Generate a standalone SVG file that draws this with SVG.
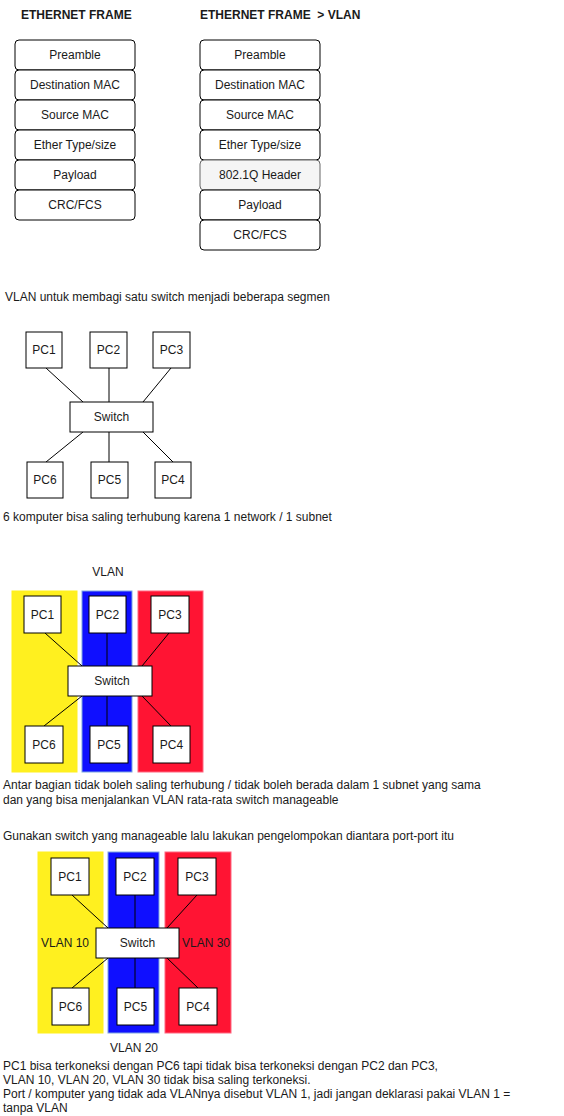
<svg xmlns="http://www.w3.org/2000/svg" width="564" height="1116" viewBox="0 0 564 1116">
<style>
text{font-family:"Liberation Sans",Arial,sans-serif;font-size:12px;fill:#1a1a1a}
.c{text-anchor:middle}
.b{font-weight:bold}
.f{fill:#fff;stroke:#000;stroke-width:1}
.h{fill:#f5f5f5;stroke:#666;stroke-width:1}
.n{fill:#fff;stroke:#000;stroke-width:1}
.ln{stroke:#000;stroke-width:1;fill:none}
.y{fill:#FFF01F;stroke:#FFF01F}
.bl{fill:#0F0FFF;stroke:#7EA6E0}
.r{fill:#FF1433;stroke:#FF6680}
</style>
<rect width="564" height="1116" fill="#fff"/>

<g id="frame1">
<text x="21" y="19" class="b">ETHERNET FRAME</text>
<g id="f1-preamble"><rect class="f" x="15" y="40" width="120" height="30" rx="4"/><text class="c" x="75" y="59">Preamble</text></g>
<g id="f1-dst"><rect class="f" x="15" y="70" width="120" height="30" rx="4"/><text class="c" x="75" y="89">Destination MAC</text></g>
<g id="f1-src"><rect class="f" x="15" y="100" width="120" height="30" rx="4"/><text class="c" x="75" y="119">Source MAC</text></g>
<g id="f1-type"><rect class="f" x="15" y="130" width="120" height="30" rx="4"/><text class="c" x="75" y="149">Ether Type/size</text></g>
<g id="f1-payload"><rect class="f" x="15" y="160" width="120" height="30" rx="4"/><text class="c" x="75" y="179">Payload</text></g>
<g id="f1-crc"><rect class="f" x="15" y="190" width="120" height="30" rx="4"/><text class="c" x="75" y="209">CRC/FCS</text></g>
</g>

<g id="frame2">
<text x="200" y="19" class="b" xml:space="preserve">ETHERNET FRAME  &gt; VLAN</text>
<g id="f2-preamble"><rect class="f" x="200" y="40" width="120" height="30" rx="4"/><text class="c" x="260" y="59">Preamble</text></g>
<g id="f2-dst"><rect class="f" x="200" y="70" width="120" height="30" rx="4"/><text class="c" x="260" y="89">Destination MAC</text></g>
<g id="f2-src"><rect class="f" x="200" y="100" width="120" height="30" rx="4"/><text class="c" x="260" y="119">Source MAC</text></g>
<g id="f2-type"><rect class="f" x="200" y="130" width="120" height="30" rx="4"/><text class="c" x="260" y="149">Ether Type/size</text></g>
<g id="f2-8021q"><rect class="h" x="200" y="160" width="120" height="30" rx="4"/><text class="c" x="260" y="179">802.1Q Header</text></g>
<g id="f2-payload"><rect class="f" x="200" y="190" width="120" height="30" rx="4"/><text class="c" x="260" y="209">Payload</text></g>
<g id="f2-crc"><rect class="f" x="200" y="220" width="120" height="30" rx="4"/><text class="c" x="260" y="239">CRC/FCS</text></g>
</g>

<text x="5" y="301">VLAN untuk membagi satu switch menjadi beberapa segmen</text>

<!-- Section 2 -->
<g id="s2-connectors" class="ln">
<line x1="46" y1="368" x2="83" y2="402"/>
<line x1="109" y1="368" x2="109" y2="402"/>
<line x1="171" y1="368" x2="143" y2="402"/>
<line x1="83" y1="432" x2="46" y2="462"/>
<line x1="109" y1="432" x2="109" y2="462"/>
<line x1="143" y1="432" x2="173" y2="462"/>
</g>
<g id="s2-pc1"><rect class="n" x="26" y="332" width="36" height="36"/><text class="c" x="44" y="354">PC1</text></g>
<g id="s2-pc2"><rect class="n" x="90" y="332" width="37" height="36"/><text class="c" x="108.5" y="354">PC2</text></g>
<g id="s2-pc3"><rect class="n" x="153" y="332" width="37" height="36"/><text class="c" x="171.5" y="354">PC3</text></g>
<g id="s2-switch"><rect class="n" x="70" y="402" width="83" height="30"/><text class="c" x="111.5" y="421">Switch</text></g>
<g id="s2-pc6"><rect class="n" x="27" y="462" width="36" height="36"/><text class="c" x="45" y="484">PC6</text></g>
<g id="s2-pc5"><rect class="n" x="91" y="462" width="37" height="36"/><text class="c" x="109.5" y="484">PC5</text></g>
<g id="s2-pc4"><rect class="n" x="155" y="462" width="36" height="36"/><text class="c" x="173" y="484">PC4</text></g>

<text x="3" y="521">6 komputer bisa saling terhubung karena 1 network / 1 subnet</text>

<!-- Section 3 -->
<text class="c" x="108" y="576">VLAN</text>
<g id="s3-zone-yellow"><rect class="y" x="12" y="591" width="65" height="181"/></g>
<g id="s3-zone-blue"><rect class="bl" x="82" y="591" width="50" height="181"/></g>
<g id="s3-zone-red"><rect class="r" x="138" y="591" width="65" height="181"/></g>
<g id="s3-connectors" class="ln">
<line x1="45" y1="633" x2="82" y2="666"/>
<line x1="107" y1="633" x2="107" y2="666"/>
<line x1="169" y1="633" x2="142" y2="666"/>
<line x1="82" y1="696" x2="44" y2="726"/>
<line x1="107" y1="696" x2="107" y2="726"/>
<line x1="142" y1="696" x2="171" y2="726"/>
</g>
<g id="s3-pc1"><rect class="n" x="24" y="596" width="37" height="37"/><text class="c" x="42.5" y="619">PC1</text></g>
<g id="s3-pc2"><rect class="n" x="89" y="596" width="37" height="37"/><text class="c" x="107.5" y="619">PC2</text></g>
<g id="s3-pc3"><rect class="n" x="151" y="596" width="38" height="37"/><text class="c" x="170" y="619">PC3</text></g>
<g id="s3-switch"><rect class="n" x="68" y="666" width="84" height="30"/><text class="c" x="112" y="685">Switch</text></g>
<g id="s3-pc6"><rect class="n" x="25" y="726" width="38" height="37"/><text class="c" x="44" y="749">PC6</text></g>
<g id="s3-pc5"><rect class="n" x="90" y="726" width="38" height="37"/><text class="c" x="109" y="749">PC5</text></g>
<g id="s3-pc4"><rect class="n" x="153" y="726" width="37" height="37"/><text class="c" x="171.5" y="749">PC4</text></g>

<text x="3" y="789">Antar bagian tidak boleh saling terhubung / tidak boleh berada dalam 1 subnet yang sama</text>
<text x="3" y="804">dan yang bisa menjalankan VLAN rata-rata switch manageable</text>
<text x="3" y="840">Gunakan switch yang manageable lalu lakukan pengelompokan diantara port-port itu</text>

<!-- Section 4 -->
<g id="s4-zone-yellow"><rect class="y" x="38" y="852" width="65" height="181"/><text class="c" x="65" y="947">VLAN 10</text></g>
<g id="s4-zone-blue"><rect class="bl" x="108" y="852" width="51" height="181"/></g>
<g id="s4-zone-red"><rect class="r" x="165" y="852" width="66" height="181"/><text class="c" x="206" y="947">VLAN 30</text></g>
<g id="s4-connectors" class="ln">
<line x1="72" y1="895" x2="108" y2="928"/>
<line x1="135" y1="895" x2="135" y2="928"/>
<line x1="197" y1="895" x2="167" y2="928"/>
<line x1="108" y1="958" x2="72" y2="988"/>
<line x1="135" y1="958" x2="135" y2="988"/>
<line x1="167" y1="958" x2="198" y2="988"/>
</g>
<g id="s4-pc1"><rect class="n" x="51" y="858" width="38" height="37"/><text class="c" x="70" y="881">PC1</text></g>
<g id="s4-pc2"><rect class="n" x="116" y="858" width="38" height="37"/><text class="c" x="135" y="881">PC2</text></g>
<g id="s4-pc3"><rect class="n" x="178" y="858" width="38" height="37"/><text class="c" x="197" y="881">PC3</text></g>
<g id="s4-switch"><rect class="n" x="96" y="928" width="83" height="30"/><text class="c" x="137.5" y="947">Switch</text></g>
<g id="s4-pc6"><rect class="n" x="52" y="988" width="37" height="37"/><text class="c" x="70.5" y="1011">PC6</text></g>
<g id="s4-pc5"><rect class="n" x="117" y="988" width="37" height="37"/><text class="c" x="135.5" y="1011">PC5</text></g>
<g id="s4-pc4"><rect class="n" x="179" y="988" width="38" height="37"/><text class="c" x="198" y="1011">PC4</text></g>
<text class="c" x="134" y="1052">VLAN 20</text>

<text x="3" y="1070">PC1 bisa terkoneksi dengan PC6 tapi tidak bisa terkoneksi dengan PC2 dan PC3,</text>
<text x="3" y="1084">VLAN 10, VLAN 20, VLAN 30 tidak bisa saling terkoneksi.</text>
<text x="3" y="1098">Port / komputer yang tidak ada VLANnya disebut VLAN 1, jadi jangan deklarasi pakai VLAN 1 =</text>
<text x="3" y="1112">tanpa VLAN</text>
</svg>
